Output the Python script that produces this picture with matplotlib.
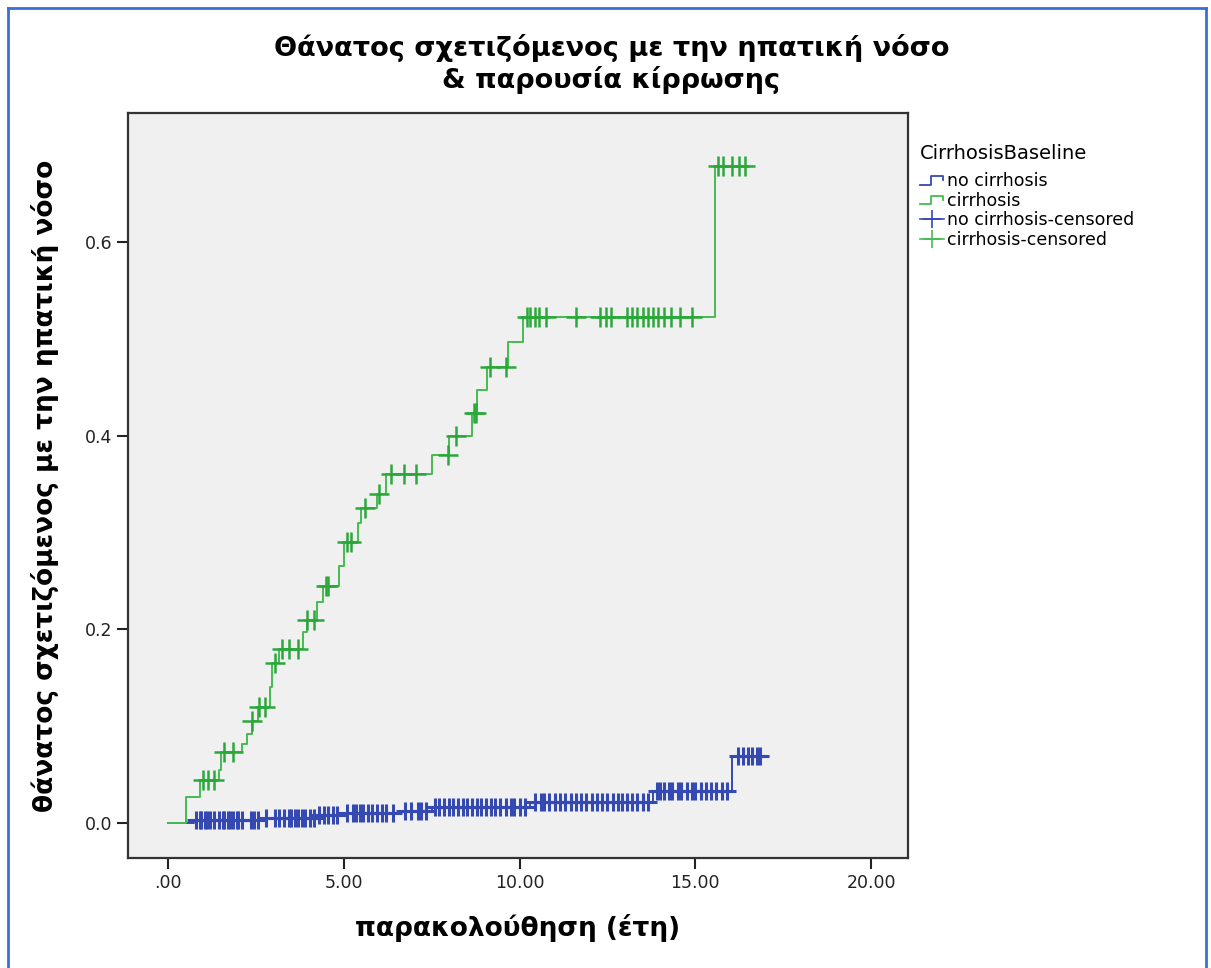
import numpy as np
import matplotlib
matplotlib.use('Agg')
import matplotlib.pyplot as plt
from matplotlib.lines import Line2D
from matplotlib.legend_handler import HandlerBase

# cumulative incidence step points (time in years, value)
green_t = [0.0, 0.5, 0.9, 1.45, 1.5, 2.1, 2.25, 2.4, 2.55, 2.9, 2.95, 3.15, 3.85, 3.95,
           4.25, 4.4, 4.85, 5.0, 5.4, 5.5, 5.95, 6.2, 7.5, 8.0, 8.65, 8.8, 9.07, 9.67,
           10.1, 15.55]
green_v = [0.0, 0.027, 0.045, 0.055, 0.073, 0.082, 0.092, 0.105, 0.12, 0.14, 0.165, 0.18,
           0.197, 0.21, 0.228, 0.245, 0.265, 0.29, 0.31, 0.325, 0.34, 0.36, 0.38, 0.40,
           0.423, 0.447, 0.471, 0.497, 0.522, 0.678]
green_end = 16.45
green_cens = [1.0, 1.15, 1.3, 1.6, 1.85, 2.4, 2.6, 2.75, 3.05, 3.25, 3.45, 3.7, 3.95, 4.15,
              4.5, 4.55, 5.1, 5.2, 5.6, 6.0, 6.35, 6.7, 7.05, 7.95, 8.2, 8.7, 8.75, 9.15,
              9.6, 10.2, 10.3, 10.45, 10.55, 10.75, 11.6, 12.3, 12.45, 12.6, 13.05, 13.2,
              13.35, 13.5, 13.65, 13.8, 13.95, 14.1, 14.3, 14.55, 14.9, 15.65, 15.8, 16.05,
              16.25, 16.4]

blue_t = [0.0, 0.75, 2.6, 4.3, 5.0, 6.6, 7.5, 10.3, 13.8, 16.05]
blue_v = [0.0, 0.003, 0.005, 0.008, 0.010, 0.013, 0.017, 0.022, 0.033, 0.069]
blue_end = 16.95
blue_cens = [0.8, 0.9, 0.95, 1.05, 1.1, 1.2, 1.3, 1.45, 1.55, 1.6, 1.7, 1.75, 1.85, 1.95,
             2.0, 2.1, 2.35, 2.45, 2.55, 2.8, 3.05, 3.15, 3.3, 3.45, 3.5, 3.6, 3.7, 3.8,
             3.9, 4.05, 4.15, 4.3, 4.45, 4.55, 4.7, 4.8, 5.1, 5.25, 5.35, 5.45, 5.55, 5.7,
             5.8, 5.95, 6.1, 6.2, 6.4, 6.75, 6.9, 7.1, 7.2, 7.35, 7.6, 7.7, 7.85, 8.0, 8.1,
             8.25, 8.4, 8.5, 8.65, 8.8, 8.9, 9.05, 9.2, 9.3, 9.45, 9.6, 9.75, 9.85, 10.0,
             10.15, 10.45, 10.6, 10.7, 10.85, 11.0, 11.15, 11.3, 11.45, 11.6, 11.75, 11.9,
             12.05, 12.2, 12.35, 12.5, 12.65, 12.8, 12.9, 13.05, 13.2, 13.35, 13.5, 13.65,
             13.9, 14.0, 14.1, 14.25, 14.35, 14.5, 14.6, 14.75, 14.9, 15.0, 15.15, 15.3,
             15.45, 15.6, 15.75, 15.9, 16.2, 16.35, 16.5, 16.6, 16.75, 16.85]

x_ticks = [0, 5, 10, 15, 20]
x_labels = ['.00', '5.00', '10.00', '15.00', '20.00']
y_ticks = [0.0, 0.2, 0.4, 0.6]

BLUE = '#3549b3'
GREEN = '#45bb52'
GREEN_MARK = '#2aa83a'


class HandlerStep(HandlerBase):
    """Draws a small step shape as the legend handle."""
    def create_artists(self, legend, orig_handle, xdescent, ydescent,
                       width, height, fontsize, trans):
        x0, x1 = -xdescent, -xdescent + width
        ylo, yhi = -ydescent + 0.15 * height, -ydescent + 0.85 * height
        xs = [x0, x0 + 0.45 * width, x0 + 0.45 * width, x1 - 0.05 * width, x1 - 0.05 * width]
        ys = [ylo, ylo, yhi, yhi, yhi - 0.35 * height]
        line = Line2D(xs, ys, color=orig_handle.get_color(), lw=1.3, transform=trans)
        return [line]


def curve(ts, vs, end):
    xs = list(ts) + [end]
    ys = list(vs) + [vs[-1]]
    return xs, ys


def at(ts, vs, cens):
    idx = np.searchsorted(ts, cens, side='right') - 1
    return np.array(vs)[idx]


fig = plt.figure(figsize=(12.11, 9.68), dpi=100)
ax = fig.add_axes([128 / 1211, 1 - 858 / 968, 780 / 1211, 745 / 968])
ax.set_facecolor('#f0f0f0')

gx, gy = curve(green_t, green_v, green_end)
bx, by = curve(blue_t, blue_v, blue_end)
ax.step(bx, by, where='post', color=BLUE, lw=1.4, zorder=3)
ax.step(gx, gy, where='post', color=GREEN, lw=1.4, zorder=3)
ax.plot(blue_cens, at(blue_t, blue_v, blue_cens), ls='none', marker='+', ms=13,
        mew=2.2, color=BLUE, zorder=4)
ax.plot(green_cens, at(green_t, green_v, green_cens), ls='none', marker='+', ms=14,
        mew=1.8, color=GREEN_MARK, zorder=4)

ax.set_xlim(-1.14, 21.05)
ax.set_ylim(-0.036, 0.733)
ax.set_xticks(x_ticks)
ax.set_xticklabels(x_labels)
ax.set_yticks(y_ticks)
ax.set_yticklabels([f'{v:.1f}' for v in y_ticks])
ax.tick_params(direction='out', length=8, width=1.5, labelsize=12.5, colors='#222222')
for s in ax.spines.values():
    s.set_linewidth(1.6)
    s.set_color('#333333')

ax.set_xlabel('παρακολούθηση (έτη)', fontsize=19, fontweight='bold', labelpad=16)
ax.set_ylabel('θάνατος σχετιζόμενος με την ηπατική νόσο', fontsize=19,
              fontweight='bold', labelpad=18)
fig.text(0.505, 1 - 48 / 968, 'Θάνατος σχετιζόμενος με την ηπατική νόσο',
         ha='center', va='center', fontsize=19.5, fontweight='bold')
fig.text(0.505, 1 - 80 / 968, '& παρουσία κίρρωσης',
         ha='center', va='center', fontsize=19.5, fontweight='bold')

handles = [Line2D([], [], color=BLUE), Line2D([], [], color=GREEN),
           Line2D([], [], color=BLUE, marker='+', ms=13, mew=1.2, lw=1.2),
           Line2D([], [], color=GREEN, marker='+', ms=13, mew=1.2, lw=1.2)]
labels = ['no cirrhosis', 'cirrhosis', 'no cirrhosis-censored', 'cirrhosis-censored']
leg = ax.legend(handles, labels, loc='upper left', bbox_to_anchor=(1.0, 0.975),
                frameon=False, fontsize=12.5, title='CirrhosisBaseline',
                title_fontsize=14, handlelength=1.4, handletextpad=0.15,
                labelspacing=0.08, borderaxespad=0.3,
                handler_map={handles[0]: HandlerStep(), handles[1]: HandlerStep()})
leg._legend_box.align = 'left'
leg._legend_box.sep = 7

# blue frame around the picture
for xs, ys in [([8, 8], [8, 968]), ([8, 1206], [8, 8]), ([1206, 1206], [8, 968])]:
    fig.add_artist(Line2D([x / 1211 for x in xs], [1 - y / 968 for y in ys],
                          color='#3b6fd6', lw=2))

fig.savefig('out.png', dpi=100)
